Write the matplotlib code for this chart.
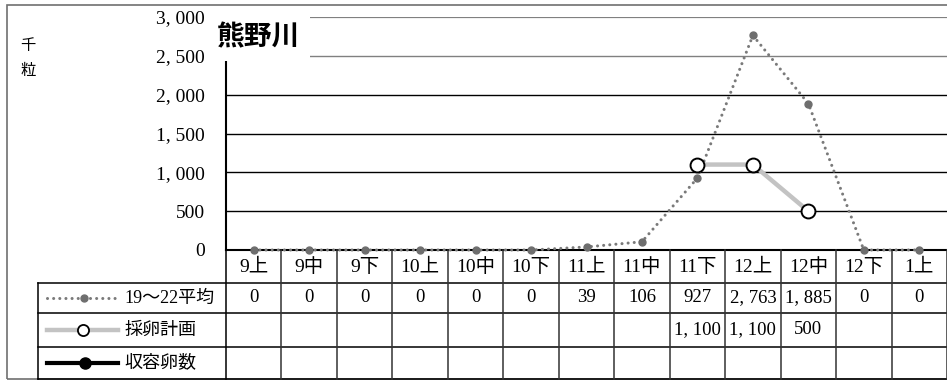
import numpy as np
import matplotlib
matplotlib.use("Agg")
import matplotlib.pyplot as plt
from matplotlib.lines import Line2D
from matplotlib.patches import Rectangle
from matplotlib.transforms import blended_transform_factory

# data
categories = ["9上", "9中", "9下", "10上", "10中", "10下", "11上", "11中",
              "11下", "12上", "12中", "12下", "1上"]
avg_19_22 = [0, 0, 0, 0, 0, 0, 39, 106, 927, 2763, 1885, 0, 0]
plan = [None, None, None, None, None, None, None, None, 1100, 1100, 500, None, None]
received = [None] * 13
series_labels = ["19～22平均", "採卵計画", "収容卵数"]
y_ticks = [0, 500, 1000, 1500, 2000, 2500, 3000]

W, H = 947, 381
SERIF = ["Liberation Serif", "Noto Sans CJK JP"]
SANS = ["Noto Sans CJK JP", "DejaVu Sans"]


def fx(px):
    return px / W


def fy(py):
    return 1 - py / H


def fmt(v):
    if v is None:
        return ""
    return f"{v:,}".replace(",", ", ")


def as_float(values):
    return np.array([np.nan if v is None else v for v in values], dtype=float)


fig = plt.figure(figsize=(W / 100, H / 100), dpi=100)
ax = fig.add_axes([fx(226), fy(250), fx(947) - fx(226), fy(17) - fy(250)])
x = np.arange(len(categories))
ax.set_xlim(-0.5, len(categories) - 0.5)
ax.set_ylim(0, 3000)

# grid lines
for t in y_ticks[1:]:
    color = "#808080" if t >= 2500 else "black"
    lw = 1.6 if t == 3000 else 1.0
    ax.axhline(t, color=color, lw=lw, zorder=1)

ax.plot(x, as_float(avg_19_22), color="#7a7a7a", lw=2.2,
        linestyle=(0, (0.01, 2.0)), dash_capstyle="round",
        marker="o", ms=5, mfc="#6e6e6e", mec="#6e6e6e", zorder=3, clip_on=False)
ax.plot(x, as_float(plan), color="#c3c3c3", lw=3.2,
        marker="o", ms=10, mfc="white", mec="black", mew=1.4, zorder=4)
ax.plot(x, as_float(received), color="black", lw=3, marker="o", ms=8, zorder=5)

for side in ["top", "right"]:
    ax.spines[side].set_visible(False)
ax.spines["left"].set_linewidth(1.5)
ax.spines["bottom"].set_linewidth(1.5)
ax.spines["bottom"].set_zorder(2)
ax.set_xticks([])
ax.set_yticks(y_ticks)
ax.set_yticklabels([fmt(t) for t in y_ticks], family=SERIF, fontsize=14)
ax.tick_params(axis="y", length=0, pad=15)

# unit label
fig.text(fx(28), fy(46), "千", family=SERIF, fontsize=11, ha="center", va="center")
fig.text(fx(28), fy(71), "粒", family=SERIF, fontsize=11, ha="center", va="center")

# title box covering upper grid
fig.add_artist(Rectangle((fx(211), fy(61)), fx(310) - fx(211), fy(12) - fy(61),
                         transform=fig.transFigure, fc="white", ec="none", zorder=5))
fig.text(fx(217), fy(37), "熊野川", family=SANS, fontsize=20, fontweight="bold",
         ha="left", va="center", zorder=6)

# outer frame
fig.add_artist(Rectangle((fx(7), fy(379)), fx(970) - fx(7), fy(5) - fy(379),
                         transform=fig.transFigure, fill=False, ec="#707070", lw=1.2))

# data table below the axes
tr = blended_transform_factory(ax.transData, fig.transFigure)
row_lines = [283, 313, 347, 379]
row_centers = [298, 330, 363]

for py in row_lines:
    fig.add_artist(Line2D([fx(38), fx(947)], [fy(py), fy(py)], color="black", lw=1.1))
fig.add_artist(Line2D([fx(38), fx(38)], [fy(283), fy(379)], color="black", lw=1.1))
for i in range(len(categories) + 1):
    fig.add_artist(Line2D([i - 0.5, i - 0.5], [fy(250), fy(379)], transform=tr,
                          color="#333333" if i else "black", lw=1.1))

for i, c in enumerate(categories):
    fig.text(i, fy(267), c, transform=tr, family=SERIF, fontsize=14,
             ha="center", va="center")

for row, values in enumerate([avg_19_22, plan, received]):
    for i, v in enumerate(values):
        fig.text(i, fy(row_centers[row]), fmt(v), transform=tr, family=SERIF,
                 fontsize=13.5, ha="center", va="center")

# legend samples in the first column
lx = [fx(47), fx(118)]
fig.add_artist(Line2D(lx, [fy(298)] * 2, color="#7a7a7a", lw=2.2,
                      linestyle=(0, (0.01, 2.0)), dash_capstyle="round"))
fig.add_artist(Line2D([fx(84)], [fy(298)], marker="o", ms=5, color="#6e6e6e"))
fig.add_artist(Line2D(lx, [fy(330)] * 2, color="#c3c3c3", lw=3.2))
fig.add_artist(Line2D([fx(83)], [fy(330)], marker="o", ms=8, mfc="white",
                      mec="black", mew=1.3))
fig.add_artist(Line2D(lx, [fy(363)] * 2, color="black", lw=3))
fig.add_artist(Line2D([fx(85)], [fy(363)], marker="o", ms=8, color="black"))

for row, label in enumerate(series_labels):
    fig.text(fx(124), fy(row_centers[row]), label, family=SERIF, fontsize=13,
             ha="left", va="center")

fig.savefig("out.png", dpi=100)
